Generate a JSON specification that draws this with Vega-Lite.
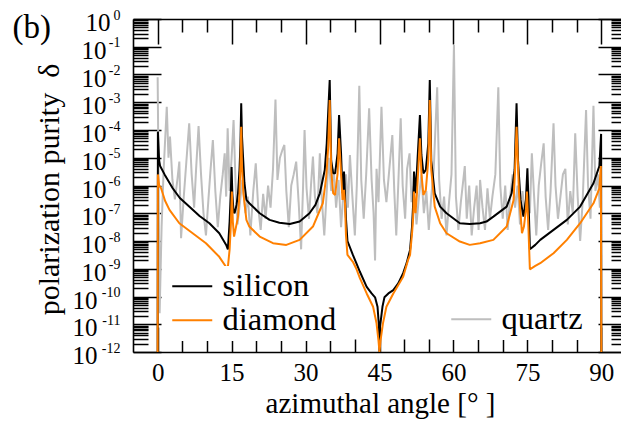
{
  "$schema": "https://vega.github.io/schema/vega-lite/v6.json",
  "width": 488,
  "height": 333,
  "autosize": {"type": "none"},
  "padding": {"left": 133, "top": 19, "right": 0, "bottom": 71},
  "background": "white",
  "config": {
    "font": "Liberation Serif",
    "view": {"stroke": null},
    "axis": {"grid": false, "domainColor": "black", "tickColor": "black", "labelColor": "black", "titleColor": "black", "domainWidth": 1.6, "tickWidth": 1.5, "labelFont": "Liberation Serif", "titleFont": "Liberation Serif", "titleFontWeight": "normal", "zindex": 1, "labelFlush": false, "labelOverlap": false}
  },
  "datasets": {
    "quartz": [
      {"angle":0.0,"log10":-2.1},{"angle":0.2,"log10":-6.0},{"angle":0.4,"log10":-10.6},{"angle":0.8,"log10":-7.5},{"angle":1.2,"log10":-5.5},{"angle":1.85,"log10":-3.16},{"angle":2.2,"log10":-5.0},{"angle":2.5,"log10":-4.24},{"angle":3.0,"log10":-5.8},{"angle":3.5,"log10":-6.5},{"angle":4.0,"log10":-5.8},{"angle":4.4,"log10":-5.14},{"angle":4.75,"log10":-7.9},{"angle":5.3,"log10":-6.4},{"angle":5.8,"log10":-5.2},{"angle":6.4,"log10":-3.76},{"angle":6.9,"log10":-5.6},{"angle":7.4,"log10":-6.8},{"angle":7.8,"log10":-5.4},{"angle":8.3,"log10":-3.86},{"angle":8.8,"log10":-5.6},{"angle":9.3,"log10":-7.0},{"angle":9.8,"log10":-7.8},{"angle":10.3,"log10":-6.5},{"angle":10.7,"log10":-5.5},{"angle":11.2,"log10":-4.36},{"angle":11.7,"log10":-6.2},{"angle":12.2,"log10":-7.5},{"angle":12.7,"log10":-6.4},{"angle":13.2,"log10":-5.6},{"angle":13.6,"log10":-4.84},{"angle":13.9,"log10":-6.4},{"angle":14.2,"log10":-3.94},{"angle":14.6,"log10":-6.2},{"angle":15.0,"log10":-5.0},{"angle":15.4,"log10":-3.64},{"angle":15.8,"log10":-5.9},{"angle":16.2,"log10":-7.4},{"angle":16.7,"log10":-6.6},{"angle":17.2,"log10":-5.8},{"angle":17.8,"log10":-7.0},{"angle":18.3,"log10":-6.4},{"angle":18.8,"log10":-7.8},{"angle":19.4,"log10":-6.2},{"angle":19.9,"log10":-5.2},{"angle":20.4,"log10":-6.8},{"angle":20.9,"log10":-7.6},{"angle":21.4,"log10":-6.3},{"angle":21.9,"log10":-7.2},{"angle":22.4,"log10":-6.0},{"angle":22.9,"log10":-6.8},{"angle":23.4,"log10":-5.4},{"angle":23.9,"log10":-2.9},{"angle":24.3,"log10":-5.8},{"angle":24.8,"log10":-5.0},{"angle":25.3,"log10":-4.72},{"angle":25.7,"log10":-4.54},{"angle":26.1,"log10":-6.2},{"angle":26.6,"log10":-7.5},{"angle":27.1,"log10":-6.0},{"angle":27.6,"log10":-5.6},{"angle":28.1,"log10":-5.14},{"angle":28.6,"log10":-6.6},{"angle":29.1,"log10":-8.3},{"angle":29.5,"log10":-6.0},{"angle":29.8,"log10":-4.0},{"angle":30.2,"log10":-6.1},{"angle":30.7,"log10":-7.2},{"angle":31.1,"log10":-6.0},{"angle":31.5,"log10":-4.96},{"angle":31.9,"log10":-6.4},{"angle":32.4,"log10":-7.0},{"angle":32.9,"log10":-4.84},{"angle":33.3,"log10":-6.5},{"angle":33.8,"log10":-7.8},{"angle":34.3,"log10":-6.2},{"angle":34.7,"log10":-5.0},{"angle":35.2,"log10":-6.2},{"angle":35.7,"log10":-5.4},{"angle":36.2,"log10":-6.8},{"angle":36.7,"log10":-5.8},{"angle":37.2,"log10":-7.5},{"angle":37.7,"log10":-6.2},{"angle":38.2,"log10":-5.6},{"angle":38.6,"log10":-6.8},{"angle":39.0,"log10":-4.9},{"angle":39.5,"log10":-6.4},{"angle":40.0,"log10":-7.8},{"angle":40.4,"log10":-6.0},{"angle":40.9,"log10":-2.41},{"angle":41.3,"log10":-5.8},{"angle":41.8,"log10":-7.2},{"angle":42.3,"log10":-5.6},{"angle":42.9,"log10":-3.22},{"angle":43.4,"log10":-5.8},{"angle":43.8,"log10":-7.0},{"angle":44.1,"log10":-8.7},{"angle":44.4,"log10":-5.4},{"angle":44.8,"log10":-6.6},{"angle":45.4,"log10":-3.16},{"angle":45.9,"log10":-5.8},{"angle":46.4,"log10":-6.6},{"angle":46.9,"log10":-5.6},{"angle":47.6,"log10":-4.18},{"angle":48.0,"log10":-6.2},{"angle":48.4,"log10":-7.8},{"angle":48.8,"log10":-6.0},{"angle":49.3,"log10":-3.58},{"angle":49.7,"log10":-6.0},{"angle":50.2,"log10":-7.2},{"angle":50.6,"log10":-5.4},{"angle":51.1,"log10":-4.84},{"angle":51.5,"log10":-6.6},{"angle":52.0,"log10":-6.0},{"angle":52.5,"log10":-7.4},{"angle":53.0,"log10":-6.4},{"angle":53.5,"log10":-5.6},{"angle":54.0,"log10":-7.0},{"angle":54.5,"log10":-6.2},{"angle":55.0,"log10":-7.6},{"angle":55.5,"log10":-6.4},{"angle":56.0,"log10":-5.4},{"angle":56.7,"log10":-2.46},{"angle":57.1,"log10":-5.8},{"angle":57.6,"log10":-7.2},{"angle":58.1,"log10":-6.4},{"angle":58.6,"log10":-7.8},{"angle":59.1,"log10":-6.6},{"angle":59.6,"log10":-5.6},{"angle":60.1,"log10":-0.94},{"angle":60.5,"log10":-6.4},{"angle":61.0,"log10":-7.6},{"angle":61.5,"log10":-6.6},{"angle":62.0,"log10":-5.8},{"angle":62.3,"log10":-5.3},{"angle":62.7,"log10":-7.2},{"angle":63.2,"log10":-6.0},{"angle":63.7,"log10":-7.8},{"angle":64.2,"log10":-6.8},{"angle":64.7,"log10":-6.0},{"angle":65.1,"log10":-7.6},{"angle":65.4,"log10":-5.8},{"angle":65.9,"log10":-6.8},{"angle":66.4,"log10":-7.6},{"angle":66.9,"log10":-6.1},{"angle":67.4,"log10":-7.2},{"angle":67.9,"log10":-6.4},{"angle":68.5,"log10":-5.6},{"angle":69.1,"log10":-2.46},{"angle":69.5,"log10":-6.0},{"angle":70.0,"log10":-7.2},{"angle":70.5,"log10":-6.0},{"angle":71.0,"log10":-7.6},{"angle":71.5,"log10":-6.4},{"angle":72.0,"log10":-5.6},{"angle":72.5,"log10":-6.8},{"angle":73.0,"log10":-6.0},{"angle":73.5,"log10":-7.4},{"angle":74.0,"log10":-6.2},{"angle":74.5,"log10":-7.0},{"angle":75.0,"log10":-6.0},{"angle":75.5,"log10":-7.0},{"angle":75.9,"log10":-4.84},{"angle":76.3,"log10":-6.2},{"angle":76.8,"log10":-7.8},{"angle":77.3,"log10":-6.0},{"angle":77.8,"log10":-5.2},{"angle":78.3,"log10":-4.48},{"angle":78.7,"log10":-6.4},{"angle":79.2,"log10":-7.6},{"angle":79.7,"log10":-6.2},{"angle":80.3,"log10":-3.76},{"angle":80.7,"log10":-6.0},{"angle":81.2,"log10":-7.2},{"angle":81.7,"log10":-6.4},{"angle":82.2,"log10":-5.6},{"angle":82.7,"log10":-5.4},{"angle":83.2,"log10":-7.4},{"angle":83.7,"log10":-6.2},{"angle":84.2,"log10":-7.0},{"angle":84.7,"log10":-4.12},{"angle":85.2,"log10":-6.4},{"angle":85.7,"log10":-8.0},{"angle":86.2,"log10":-6.6},{"angle":86.9,"log10":-3.28},{"angle":87.3,"log10":-6.0},{"angle":87.8,"log10":-7.2},{"angle":88.4,"log10":-3.13},{"angle":88.8,"log10":-6.2},{"angle":89.3,"log10":-5.6},{"angle":89.7,"log10":-6.8},{"angle":90.0,"log10":-5.0}
    ],
    "silicon": [
      {"angle":0,"log10":-12},{"angle":0.05,"log10":-4.06},{"angle":0.3,"log10":-5.1},{"angle":0.5,"log10":-5.3},{"angle":1.4,"log10":-5.6},{"angle":3.05,"log10":-6.1},{"angle":4.5,"log10":-6.45},{"angle":6.4,"log10":-6.76},{"angle":8.5,"log10":-7.1},{"angle":10.5,"log10":-7.36},{"angle":12.5,"log10":-7.72},{"angle":13.9,"log10":-8.14},{"angle":14.25,"log10":-8.3},{"angle":14.6,"log10":-7.3},{"angle":14.85,"log10":-6.2},{"angle":15.0,"log10":-5.33},{"angle":15.15,"log10":-6.3},{"angle":15.4,"log10":-6.95},{"angle":15.6,"log10":-7.0},{"angle":16.0,"log10":-6.7},{"angle":16.3,"log10":-6.28},{"angle":16.6,"log10":-5.45},{"angle":16.8,"log10":-4.5},{"angle":16.95,"log10":-3.04},{"angle":17.1,"log10":-4.2},{"angle":17.3,"log10":-4.9},{"angle":17.6,"log10":-5.9},{"angle":18.0,"log10":-6.52},{"angle":18.6,"log10":-6.64},{"angle":20.7,"log10":-7.0},{"angle":22.7,"log10":-7.24},{"angle":24.7,"log10":-7.34},{"angle":26.8,"log10":-7.39},{"angle":28.8,"log10":-7.3},{"angle":30.8,"log10":-7.0},{"angle":32.0,"log10":-6.7},{"angle":32.9,"log10":-6.28},{"angle":33.9,"log10":-5.44},{"angle":34.3,"log10":-4.48},{"angle":34.9,"log10":-2.2},{"angle":35.2,"log10":-5.1},{"angle":35.6,"log10":-5.56},{"angle":36.0,"log10":-5.56},{"angle":36.5,"log10":-4.84},{"angle":36.8,"log10":-3.46},{"angle":37.2,"log10":-4.84},{"angle":37.5,"log10":-6.28},{"angle":37.8,"log10":-5.5},{"angle":38.0,"log10":-6.28},{"angle":38.2,"log10":-7.2},{"angle":38.5,"log10":-8.0},{"angle":39.6,"log10":-8.5},{"angle":40.3,"log10":-8.8},{"angle":41.0,"log10":-9.1},{"angle":42.4,"log10":-9.65},{"angle":43.4,"log10":-9.89},{"angle":44.1,"log10":-10.03},{"angle":44.6,"log10":-10.37},{"angle":44.9,"log10":-11.1},{"angle":45.0,"log10":-12},{"angle":45.1,"log10":-11.1},{"angle":45.6,"log10":-10.37},{"angle":46.0,"log10":-10.03},{"angle":46.8,"log10":-9.89},{"angle":47.8,"log10":-9.77},{"angle":48.8,"log10":-9.53},{"angle":49.8,"log10":-9.16},{"angle":50.5,"log10":-8.8},{"angle":51.2,"log10":-8.32},{"angle":51.6,"log10":-7.48},{"angle":51.8,"log10":-6.76},{"angle":52.0,"log10":-5.5},{"angle":52.3,"log10":-6.28},{"angle":52.6,"log10":-5.44},{"angle":53.2,"log10":-3.46},{"angle":53.5,"log10":-4.9},{"angle":53.9,"log10":-5.56},{"angle":54.4,"log10":-5.44},{"angle":54.9,"log10":-4.48},{"angle":55.2,"log10":-2.2},{"angle":55.5,"log10":-5.1},{"angle":56.2,"log10":-6.28},{"angle":57.3,"log10":-6.76},{"angle":58.6,"log10":-7.0},{"angle":61.3,"log10":-7.36},{"angle":63.3,"log10":-7.39},{"angle":65.4,"log10":-7.36},{"angle":66.7,"log10":-7.3},{"angle":68.1,"log10":-7.12},{"angle":70.8,"log10":-6.76},{"angle":71.8,"log10":-6.28},{"angle":72.4,"log10":-5.44},{"angle":72.8,"log10":-3.04},{"angle":73.1,"log10":-5.1},{"angle":73.6,"log10":-6.52},{"angle":74.2,"log10":-7.12},{"angle":74.7,"log10":-6.52},{"angle":75.0,"log10":-5.38},{"angle":75.3,"log10":-7.0},{"angle":75.5,"log10":-8.3},{"angle":76.6,"log10":-8.14},{"angle":77.6,"log10":-7.96},{"angle":80.3,"log10":-7.6},{"angle":83.0,"log10":-7.24},{"angle":85.7,"log10":-6.76},{"angle":88.4,"log10":-5.92},{"angle":89.6,"log10":-5.3},{"angle":89.95,"log10":-4.14},{"angle":90.0,"log10":-12}
    ],
    "diamond": [
      {"angle":0,"log10":-12},{"angle":0.05,"log10":-5.6},{"angle":0.3,"log10":-6.0},{"angle":0.7,"log10":-6.1},{"angle":1.5,"log10":-6.55},{"angle":2.4,"log10":-6.88},{"angle":4.4,"log10":-7.36},{"angle":7.1,"log10":-7.72},{"angle":9.8,"log10":-8.08},{"angle":12.5,"log10":-8.57},{"angle":14.2,"log10":-9.02},{"angle":14.6,"log10":-8.3},{"angle":14.85,"log10":-7.4},{"angle":15.05,"log10":-6.22},{"angle":15.25,"log10":-7.3},{"angle":15.5,"log10":-7.84},{"angle":16.0,"log10":-7.4},{"angle":16.3,"log10":-7.12},{"angle":16.6,"log10":-6.28},{"angle":16.8,"log10":-5.2},{"angle":16.95,"log10":-3.88},{"angle":17.1,"log10":-5.3},{"angle":17.4,"log10":-6.28},{"angle":18.0,"log10":-7.24},{"angle":18.6,"log10":-7.48},{"angle":20.7,"log10":-7.84},{"angle":23.4,"log10":-8.08},{"angle":26.1,"log10":-8.14},{"angle":28.8,"log10":-7.96},{"angle":31.5,"log10":-7.48},{"angle":33.5,"log10":-6.64},{"angle":34.2,"log10":-5.68},{"angle":34.6,"log10":-4.6},{"angle":34.9,"log10":-2.92},{"angle":35.2,"log10":-5.44},{"angle":35.6,"log10":-6.28},{"angle":36.0,"log10":-6.34},{"angle":36.5,"log10":-5.56},{"angle":36.8,"log10":-4.3},{"angle":37.2,"log10":-5.56},{"angle":37.5,"log10":-6.52},{"angle":37.8,"log10":-6.16},{"angle":38.0,"log10":-6.64},{"angle":38.2,"log10":-7.8},{"angle":38.5,"log10":-8.5},{"angle":39.6,"log10":-8.75},{"angle":40.3,"log10":-9.0},{"angle":41.0,"log10":-9.33},{"angle":42.4,"log10":-9.89},{"angle":43.7,"log10":-10.37},{"angle":44.4,"log10":-10.97},{"angle":44.8,"log10":-11.6},{"angle":45.0,"log10":-12},{"angle":45.2,"log10":-11.6},{"angle":45.7,"log10":-10.97},{"angle":46.4,"log10":-10.37},{"angle":47.8,"log10":-9.89},{"angle":49.8,"log10":-9.29},{"angle":50.8,"log10":-8.68},{"angle":51.2,"log10":-8.5},{"angle":51.6,"log10":-7.72},{"angle":51.8,"log10":-7.24},{"angle":52.0,"log10":-6.22},{"angle":52.3,"log10":-7.0},{"angle":52.6,"log10":-6.28},{"angle":53.2,"log10":-4.3},{"angle":53.5,"log10":-5.56},{"angle":53.9,"log10":-6.34},{"angle":54.4,"log10":-6.16},{"angle":54.9,"log10":-5.08},{"angle":55.2,"log10":-2.92},{"angle":55.5,"log10":-5.44},{"angle":56.2,"log10":-6.76},{"angle":57.3,"log10":-7.36},{"angle":58.6,"log10":-7.72},{"angle":61.3,"log10":-8.02},{"angle":63.3,"log10":-8.14},{"angle":65.4,"log10":-8.08},{"angle":68.1,"log10":-7.96},{"angle":70.8,"log10":-7.48},{"angle":72.2,"log10":-6.52},{"angle":72.5,"log10":-5.44},{"angle":72.8,"log10":-3.88},{"angle":73.3,"log10":-6.28},{"angle":73.9,"log10":-7.72},{"angle":74.3,"log10":-7.48},{"angle":74.7,"log10":-6.88},{"angle":74.9,"log10":-6.22},{"angle":75.2,"log10":-7.48},{"angle":75.5,"log10":-9.02},{"angle":76.6,"log10":-8.9},{"angle":77.6,"log10":-8.8},{"angle":80.3,"log10":-8.44},{"angle":83.0,"log10":-7.96},{"angle":85.7,"log10":-7.36},{"angle":88.4,"log10":-6.64},{"angle":89.6,"log10":-6.1},{"angle":89.9,"log10":-5.3},{"angle":90.0,"log10":-12}
    ]
  },
  "layer": [
    {
      "data": {"name": "quartz"},
      "mark": {"type": "line", "strokeWidth": 2, "strokeJoin": "bevel", "clip": true},
      "encoding": {
        "x": {"field": "angle", "type": "quantitative", "scale": {"domain": [-5, 95], "range": [0, 493], "nice": false, "zero": false},
          "axis": {"orient": "bottom", "values": [0,5,10,15,20,25,30,35,40,45,50,55,60,65,70,75,80,85,90], "labels": false, "title": null, "domain": true, "ticks": true,
            "tickSize": {"condition": {"test": "datum.value % 15 === 0", "value": -25}, "value": -13}}},
        "y": {"field": "log10", "type": "quantitative", "scale": {"domain": [-12, 0], "nice": false, "zero": false},
          "axis": {"orient": "left", "title": null, "domain": true, "ticks": true,
            "values": [-12,-11.69897,-11.52288,-11.39794,-11.30103,-11.22185,-11.1549,-11.09691,-11.04576,-11,-10.69897,-10.52288,-10.39794,-10.30103,-10.22185,-10.1549,-10.09691,-10.04576,-10,-9.69897,-9.52288,-9.39794,-9.30103,-9.22185,-9.1549,-9.09691,-9.04576,-9,-8.69897,-8.52288,-8.39794,-8.30103,-8.22185,-8.1549,-8.09691,-8.04576,-8,-7.69897,-7.52288,-7.39794,-7.30103,-7.22185,-7.1549,-7.09691,-7.04576,-7,-6.69897,-6.52288,-6.39794,-6.30103,-6.22185,-6.1549,-6.09691,-6.04576,-6,-5.69897,-5.52288,-5.39794,-5.30103,-5.22185,-5.1549,-5.09691,-5.04576,-5,-4.69897,-4.52288,-4.39794,-4.30103,-4.22185,-4.1549,-4.09691,-4.04576,-4,-3.69897,-3.52288,-3.39794,-3.30103,-3.22185,-3.1549,-3.09691,-3.04576,-3,-2.69897,-2.52288,-2.39794,-2.30103,-2.22185,-2.1549,-2.09691,-2.04576,-2,-1.69897,-1.52288,-1.39794,-1.30103,-1.22185,-1.1549,-1.09691,-1.04576,-1,-0.69897,-0.52288,-0.39794,-0.30103,-0.22185,-0.1549,-0.09691,-0.04576,0],
            "tickSize": {"condition": {"test": "datum.value === round(datum.value)", "value": -28}, "value": -15},
            "labelExpr": "datum.value === round(datum.value) ? (datum.value === 0 ? '0' : '-' + abs(datum.value)) : ''",
            "labelFontSize": 14, "labelAlign": "right", "labelBaseline": "alphabetic", "labelPadding": 41, "labelOffset": 0}},
        "stroke": {"datum": "quartz", "scale": {"domain": ["quartz"], "range": ["#bebebe"]},
          "legend": {"orient": "none", "legendX": 318, "legendY": 280, "title": null, "labelFontSize": 32.5, "labelFont": "Liberation Serif", "labelColor": "black", "symbolType": "M-4,0H4", "symbolSize": 100, "symbolStrokeWidth": 2, "labelOffset": 14, "padding": 4, "rowPadding": 1, "fillColor": "white", "zindex": 2, "labelLimit": 300}}
      }
    },
    {
      "data": {"name": "silicon"},
      "mark": {"type": "line", "strokeWidth": 2, "strokeJoin": "bevel", "clip": true},
      "encoding": {
        "x": {"field": "angle", "type": "quantitative", "scale": {"domain": [-5, 95], "range": [0, 493], "nice": false, "zero": false},
          "axis": {"orient": "top", "values": [0,5,10,15,20,25,30,35,40,45,50,55,60,65,70,75,80,85,90], "labels": false, "domain": true, "ticks": true,
            "tickSize": {"condition": {"test": "datum.value % 15 === 0", "value": -25}, "value": -13},
            "title": "(b)", "titleFontSize": 33, "titleX": -121, "titleY": 18, "titleAngle": 0, "titleAlign": "left", "titleBaseline": "alphabetic", "titleAnchor": "start"}},
        "y": {"field": "log10", "type": "quantitative", "scale": {"domain": [-12, 0], "nice": false, "zero": false},
          "axis": {"orient": "right", "offset": 5, "labels": false, "title": null, "domain": true, "ticks": true,
            "values": [-12,-11.69897,-11.52288,-11.39794,-11.30103,-11.22185,-11.1549,-11.09691,-11.04576,-11,-10.69897,-10.52288,-10.39794,-10.30103,-10.22185,-10.1549,-10.09691,-10.04576,-10,-9.69897,-9.52288,-9.39794,-9.30103,-9.22185,-9.1549,-9.09691,-9.04576,-9,-8.69897,-8.52288,-8.39794,-8.30103,-8.22185,-8.1549,-8.09691,-8.04576,-8,-7.69897,-7.52288,-7.39794,-7.30103,-7.22185,-7.1549,-7.09691,-7.04576,-7,-6.69897,-6.52288,-6.39794,-6.30103,-6.22185,-6.1549,-6.09691,-6.04576,-6,-5.69897,-5.52288,-5.39794,-5.30103,-5.22185,-5.1549,-5.09691,-5.04576,-5,-4.69897,-4.52288,-4.39794,-4.30103,-4.22185,-4.1549,-4.09691,-4.04576,-4,-3.69897,-3.52288,-3.39794,-3.30103,-3.22185,-3.1549,-3.09691,-3.04576,-3,-2.69897,-2.52288,-2.39794,-2.30103,-2.22185,-2.1549,-2.09691,-2.04576,-2,-1.69897,-1.52288,-1.39794,-1.30103,-1.22185,-1.1549,-1.09691,-1.04576,-1,-0.69897,-0.52288,-0.39794,-0.30103,-0.22185,-0.1549,-0.09691,-0.04576,0],
            "tickSize": {"condition": {"test": "datum.value === round(datum.value)", "value": -28}, "value": -15}}},
        "color": {"datum": "silicon", "scale": {"domain": ["silicon", "diamond"], "range": ["black", "#ff8000"]},
          "legend": {"orient": "none", "legendX": 39, "legendY": 247, "title": null, "labelFontSize": 32.5, "labelFont": "Liberation Serif", "labelColor": "black", "symbolType": "M-4,0H4", "symbolSize": 100, "symbolStrokeWidth": 2, "labelOffset": 14, "padding": 4, "rowPadding": 1, "fillColor": "white", "zindex": 2, "labelLimit": 300}}
      }
    },
    {
      "data": {"name": "diamond"},
      "mark": {"type": "line", "strokeWidth": 2, "strokeJoin": "bevel", "clip": true},
      "encoding": {
        "x": {"field": "angle", "type": "quantitative", "scale": {"domain": [-5, 95], "range": [0, 493], "nice": false, "zero": false},
          "axis": {"orient": "bottom", "values": [0,15,30,45,60,75,90], "ticks": false, "domain": false, "labelPadding": 28, "labelBaseline": "alphabetic", "labelFontSize": 25,
            "title": "azimuthal angle [° ]", "titleFontSize": 29, "titleX": 247, "titleY": 60, "titleBaseline": "alphabetic", "titleAnchor": "middle", "titleAlign": "center"}},
        "y": {"field": "log10", "type": "quantitative", "scale": {"domain": [-12, 0], "nice": false, "zero": false},
          "axis": {"orient": "left", "values": [-12,-11,-10,-9,-8,-7,-6,-5,-4,-3,-2,-1,0], "ticks": false, "domain": false, "labelFontSize": 25, "labelBaseline": "alphabetic", "labelAlign": "right", "labelOffset": 11.5,
            "labelPadding": {"condition": [{"test": "datum.value === 0", "value": 23}, {"test": "datum.value <= -10", "value": 36}], "value": 27},
            "labelExpr": "'10'",
            "title": "polarization purity\u2002δ", "titleFontSize": 30, "titleX": -75, "titleY": 170, "titleBaseline": "alphabetic", "titleAngle": 270, "titleAlign": "center"}},
        "color": {"datum": "diamond", "scale": {"domain": ["silicon", "diamond"], "range": ["black", "#ff8000"]}}
      }
    }
  ],
  "resolve": {"axis": {"x": "independent", "y": "independent"}}
}
